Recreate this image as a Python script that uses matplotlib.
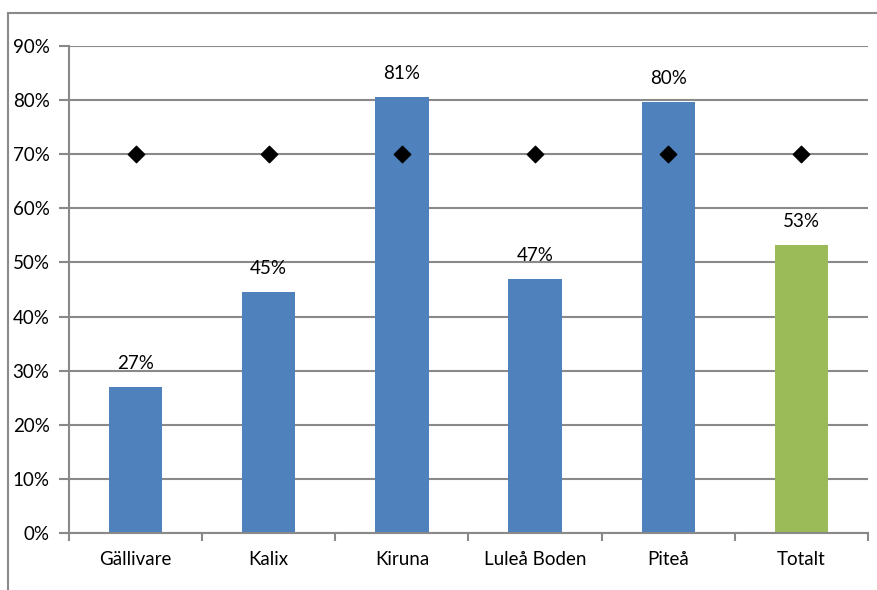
import matplotlib
matplotlib.use("Agg")
import matplotlib.pyplot as plt
from matplotlib.patches import Rectangle

categories = ["Gällivare", "Kalix", "Kiruna", "Luleå Boden", "Piteå", "Totalt"]
values = [27.0, 44.6, 80.5, 47.0, 79.7, 53.2]
labels = ["27%", "45%", "81%", "47%", "80%", "53%"]
target = [70, 70, 70, 70, 70, 70]
bar_colors = ["#4f81bd"] * 5 + ["#9bbb59"]

plt.rcParams["font.family"] = ["Lato", "DejaVu Sans"]
FS = 13.5
grid_c = "#898989"

fig = plt.figure(figsize=(8.77, 5.90), dpi=100)
# outer chart border (only left/top visible)
fig.patches.append(Rectangle((8 / 877, -0.1), 1.2, 1.1 - 13 / 590,
                             transform=fig.transFigure, fill=False,
                             edgecolor="#8a8a8a", lw=1.5))
ax = fig.add_axes([69 / 877, 1 - 533 / 590, (868 - 69) / 877, (533 - 46) / 590])

x = list(range(len(categories)))
ax.bar(x, values, width=0.4, color=bar_colors, zorder=2)
ax.scatter(x, target, marker="D", s=70, color="black", zorder=3)
for xi, v, lab in zip(x, values, labels):
    ax.annotate(lab, (xi, v), xytext=(0, 17), textcoords="offset points",
                ha="center", va="center", fontsize=FS)

ax.set_xlim(-0.5, len(categories) - 0.5)
ax.set_ylim(0, 90)
ax.set_yticks(range(0, 91, 10))
ax.set_yticklabels([f"{t}%" for t in range(0, 91, 10)], fontsize=FS)
ax.set_xticks(x)
ax.set_xticklabels(categories, fontsize=FS)
ax.set_xticks([i - 0.5 for i in range(len(categories) + 1)], minor=True)
ax.tick_params(axis="x", which="major", length=0, pad=13)
ax.tick_params(axis="x", which="minor", length=6, width=1.5, color=grid_c)
ax.tick_params(axis="y", length=7, width=1.5, color=grid_c, pad=7)
ax.yaxis.grid(True, color=grid_c, lw=1.5, zorder=0)
ax.set_axisbelow(True)
for s in ["top", "right"]:
    ax.spines[s].set_visible(False)
for s in ["left", "bottom"]:
    ax.spines[s].set_color(grid_c)
    ax.spines[s].set_linewidth(1.5)

fig.savefig("out.png", dpi=100)
